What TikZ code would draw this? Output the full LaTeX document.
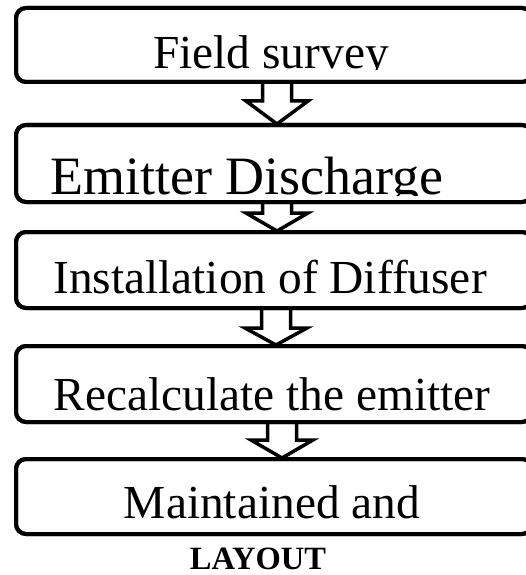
\documentclass[tikz,border=0pt]{standalone}
\usepackage{fontspec}
\setmainfont{Liberation Serif}
\usetikzlibrary{calc}
\begin{document}
\begin{tikzpicture}[x=1pt,y=-1pt,
  stagebox/.style={draw=black, line width=4pt, rounded corners=10pt,
    rectangle, inner sep=0pt, outer sep=0pt, minimum width=516pt},
  stagetext/.style={anchor=base, inner sep=0pt, outer sep=0pt,
    font=\fontsize{47.4pt}{50pt}\selectfont},
  flowarrow/.style={draw=black, line width=3.5pt, line join=miter, miter limit=10}]
\useasboundingbox (0,0) rectangle (526,575);

% stage frames
\node[stagebox, minimum height=74pt] (b1) at (274,45) {};
\node[stagebox, minimum height=77pt] (b2) at (274,163.5) {};
\node[stagebox, minimum height=76pt] (b3) at (274,270) {};
\node[stagebox, minimum height=76pt] (b4) at (274,384) {};
\node[stagebox, minimum height=75pt] (b5) at (274,496.5) {};

% stage captions (lower parts cut off at the text frame)
\begin{scope}
  \clip (0,0) rectangle (526,70);
  \node[stagetext] (t1) at (271,69) {Field survey};
\end{scope}
\begin{scope}
  \clip (0,120) rectangle (526,195);
  \node[stagetext, font=\fontsize{54pt}{56pt}\selectfont] (t2) at (247,194) {Emitter Discharge};
\end{scope}
\node[stagetext] (t3) at (270,293) {Installation of Diffuser};
\node[stagetext] (t4) at (272,410) {Recalculate the emitter};
\node[stagetext] (t5) at (272,518) {Maintained and};

% hollow block arrows between stages: from/to/offset/shaft length
\foreach \u/\v/\dx/\sh in {b1/b2/3/19, b2/b3/3/11, b3/b4/2/20, b4/b5/8/18}{
  \coordinate (top-\u) at ($(\u.south)+(\dx,0)$);
  \coordinate (tip-\u) at ($(\v.north)+(\dx,-1)$);
  \draw[flowarrow]
    ($(top-\u)+(-14.5,0)$) -- ($(top-\u)+(-14.5,\sh)$) -- ($(top-\u)+(-31,\sh)$)
    -- (tip-\u)
    -- ($(top-\u)+(31,\sh)$) -- ($(top-\u)+(14.5,\sh)$) -- ($(top-\u)+(14.5,0)$);
}

% redraw frames on top of the arrow ends
\foreach \b in {b1,b2,b3,b4,b5}{
  \draw[line width=4pt, rounded corners=10pt] (\b.north west) rectangle (\b.south east);
}

\node[anchor=base, inner sep=0pt, font=\bfseries\fontsize{32.5pt}{34pt}\selectfont] (title) at (258,569) {LAYOUT};
\end{tikzpicture}
\end{document}
